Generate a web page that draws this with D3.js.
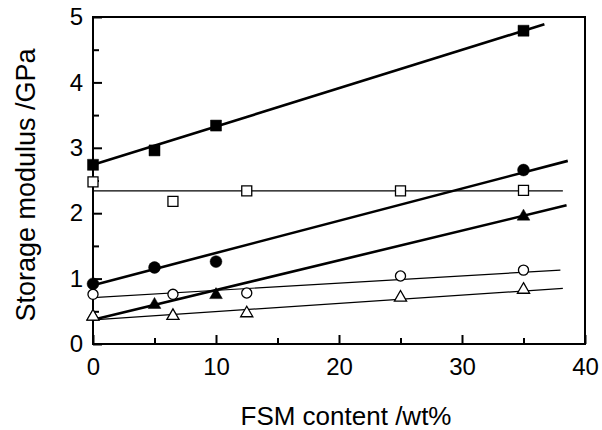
<!DOCTYPE html>
<html>
<head>
  <meta charset="utf-8">
  <title>Storage modulus vs FSM content</title>
  <script src="https://d3js.org/d3.v7.min.js"></script>
  <style>
    body { margin: 0; background: #fff; }
    text { font-family: 'Liberation Sans', Arial, Helvetica, sans-serif; fill: #000; }
    .tick text { font-size: 24px; }
  </style>
</head>
<body>
  <div id="chart"></div>
  <script>
    // x ticks / y ticks
    var xTicks = [0, 10, 20, 30, 40];
    var xMinor = [5, 15, 25, 35];
    var yTicks = [0, 1, 2, 3, 4, 5];
    var yMinor = [0.5, 1.5, 2.5, 3.5, 4.5];

    // data (x = FSM wt%, y = GPa)
    var filledSqX = [0, 5, 10, 35];
    var filledSqY = [2.74, 2.96, 3.34, 4.79];
    var openSqX = [0, 6.5, 12.5, 25, 35];
    var openSqY = [2.48, 2.18, 2.34, 2.34, 2.35];
    var filledCircX = [0, 5, 10, 35];
    var filledCircY = [0.92, 1.17, 1.26, 2.66];
    var filledTriX = [0, 5, 10, 35];
    var filledTriY = [0.42, 0.60, 0.75, 1.95];
    var openCircX = [0, 6.5, 12.5, 25, 35];
    var openCircY = [0.76, 0.76, 0.78, 1.04, 1.13];
    var openTriX = [0, 6.5, 12.5, 25, 35];
    var openTriY = [0.42, 0.43, 0.47, 0.71, 0.83];

    // fitted straight lines: [x start, x end], [y start, y end]
    var filledSqFitX = [0, 36.7],   filledSqFitY = [2.74, 4.89];
    var openSqFitX = [0, 38.2],     openSqFitY = [2.34, 2.34];
    var filledCircFitX = [0, 38.6], filledCircFitY = [0.90, 2.80];
    var filledTriFitX = [0, 38.5],  filledTriFitY = [0.37, 2.12];
    var openCircFitX = [0, 38.0],   openCircFitY = [0.71, 1.13];
    var openTriFitX = [0, 38.2],    openTriFitY = [0.37, 0.85];

    var W = 602, H = 430;
    var margin = {top: 17, right: 17, bottom: 86, left: 93};

    var svg = d3.select("#chart").append("svg")
      .attr("width", W).attr("height", H);

    var x = d3.scaleLinear().domain([0, 40]).range([margin.left, W - margin.right]);
    var y = d3.scaleLinear().domain([0, 5]).range([H - margin.bottom, margin.top]);

    // axes, ticks point inward
    var gx = svg.append("g").attr("transform", "translate(0," + y(0) + ")");
    gx.call(d3.axisBottom(x).tickValues(xTicks).tickSize(-9).tickPadding(14).tickFormat(d3.format("d")));
    gx.append("g").call(d3.axisBottom(x).tickValues(xMinor).tickSize(-6).tickFormat(""));

    var gy = svg.append("g").attr("transform", "translate(" + x(0) + ",0)");
    gy.call(d3.axisLeft(y).tickValues(yTicks).tickSize(-9).tickPadding(10).tickFormat(d3.format("d")));
    gy.append("g").call(d3.axisLeft(y).tickValues(yMinor).tickSize(-6).tickFormat(""));

    svg.selectAll(".domain").remove();
    svg.selectAll(".tick line").attr("stroke", "#000").attr("stroke-width", 2);

    // frame
    svg.append("rect")
      .attr("x", x(0)).attr("y", y(5))
      .attr("width", x(40) - x(0)).attr("height", y(0) - y(5))
      .attr("fill", "none").attr("stroke", "#000").attr("stroke-width", 2);

    // fit lines
    var fits = [
      [filledSqFitX, filledSqFitY, 2.6],
      [openSqFitX, openSqFitY, 1.2],
      [filledCircFitX, filledCircFitY, 2.6],
      [filledTriFitX, filledTriFitY, 2.6],
      [openCircFitX, openCircFitY, 1.2],
      [openTriFitX, openTriFitY, 1.2]
    ];
    fits.forEach(function(f) {
      svg.append("line")
        .attr("x1", x(f[0][0])).attr("x2", x(f[0][1]))
        .attr("y1", y(f[1][0])).attr("y2", y(f[1][1]))
        .attr("stroke", "#000").attr("stroke-width", f[2]);
    });

    // markers
    function markers(xs, ys, type, size, filled) {
      var pts = xs.map(function(v, i) { return [v, ys[i]]; });
      svg.append("g").selectAll("path")
        .data(pts)
        .enter().append("path")
          .attr("transform", function(d) { return "translate(" + x(d[0]) + "," + y(d[1]) + ")"; })
          .attr("d", d3.symbol().type(type).size(size))
          .attr("fill", filled ? "#000" : "#fff")
          .attr("stroke", "#000")
          .attr("stroke-width", filled ? 0.5 : 1.3);
    }
    markers(filledTriX, filledTriY, d3.symbolTriangle, 70, true);
    markers(filledSqX, filledSqY, d3.symbolSquare, 121, true);
    markers(filledCircX, filledCircY, d3.symbolCircle, 110, true);
    markers(openSqX, openSqY, d3.symbolSquare, 100, false);
    markers(openCircX, openCircY, d3.symbolCircle, 80, false);
    markers(openTriX, openTriY, d3.symbolTriangle, 64, false);

    // axis titles
    svg.append("text")
      .attr("x", 346).attr("y", 425)
      .attr("text-anchor", "middle")
      .style("font-size", "26px")
      .text("FSM content /wt%");

    svg.append("text")
      .attr("transform", "translate(35," + 185 + ") rotate(-90)")
      .attr("text-anchor", "middle")
      .style("font-size", "27px")
      .text("Storage modulus /GPa");
  </script>
</body>
</html>
